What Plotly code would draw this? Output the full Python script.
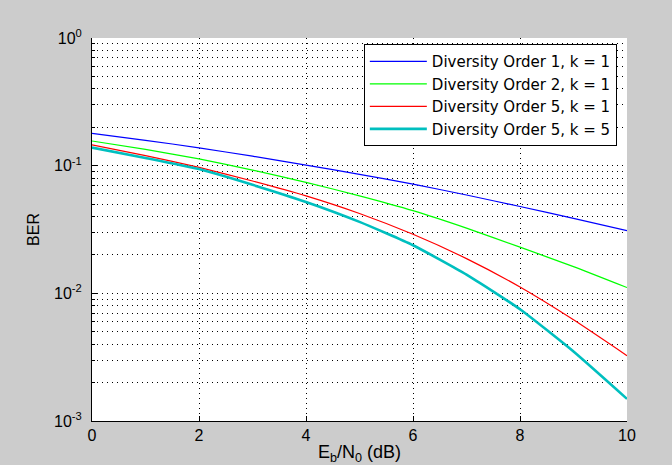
import plotly.graph_objects as go

ebn0 = [0, 1, 2, 3, 4, 5, 6, 7, 8, 9, 10]
ber_div1_k1 = [0.179, 0.158, 0.138, 0.1186, 0.101, 0.0855, 0.0717, 0.0589, 0.0479, 0.0386, 0.031]
ber_div2_k1 = [0.156, 0.134, 0.113, 0.0923, 0.074, 0.058, 0.0444, 0.0324, 0.0230, 0.0162, 0.0111]
ber_div5_k1 = [0.1455, 0.120, 0.097, 0.0759, 0.058, 0.0422, 0.0290, 0.0187, 0.0112, 0.0062, 0.00325]
ber_div5_k5 = [0.1386, 0.115, 0.094, 0.0708, 0.052, 0.0363, 0.0238, 0.0140, 0.0075, 0.00350, 0.00149]

names = ["Diversity Order 1, k = 1", "Diversity Order 2, k = 1",
         "Diversity Order 5, k = 1", "Diversity Order 5, k = 5"]
colors = ["rgb(0,0,255)", "rgb(0,255,0)", "rgb(255,0,0)", "rgb(0,191,191)"]
widths = [1.2, 1.2, 1.2, 2.6]

y_major = [1e-3, 1e-2, 1e-1, 1]
y_major_text = ["10<sup>-3</sup>", "10<sup>-2</sup>", "10<sup>-1</sup>", "10<sup>0</sup>"]
y_minor = [m * d for d in [1e-3, 1e-2, 1e-1] for m in range(2, 10)]
x_ticks = [0, 2, 4, 6, 8, 10]

fig = go.Figure()
for ys, n, c, w in zip([ber_div1_k1, ber_div2_k1, ber_div5_k1, ber_div5_k5], names, colors, widths):
    fig.add_trace(go.Scatter(x=ebn0, y=ys, mode="lines", name=n,
                             line=dict(color=c, width=w, shape="spline", smoothing=0.5)))

grid_dash = "1px,4px"
fig.update_layout(
    width=672, height=465,
    margin=dict(l=92, r=45, t=38, b=44),
    paper_bgcolor="rgb(204,204,204)",
    plot_bgcolor="white",
    font=dict(family="Liberation Sans, Arial, sans-serif", size=15, color="black"),
    showlegend=True,
    legend=dict(x=0.981, y=0.984, xanchor="right", yanchor="top",
                bgcolor="white", bordercolor="black", borderwidth=1,
                font=dict(family="DejaVu Sans, sans-serif", size=15),
                itemwidth=57, tracegroupgap=0),
    xaxis=dict(range=[0, 10], tickmode="array", tickvals=x_ticks, automargin=False,
               ticks="inside", ticklen=5, tickcolor="black",
               tickfont=dict(size=16), ticklabelstandoff=0,
               showline=True, linecolor="black", linewidth=1, mirror=False,
               showgrid=True, gridcolor="black", griddash=grid_dash, gridwidth=1,
               zeroline=False,
               title=dict(text="E<sub>b</sub>/N<sub>0</sub> (dB)", standoff=12)),
    yaxis=dict(type="log", range=[-3, 0], tickmode="array", tickvals=y_major,
               ticktext=y_major_text, automargin=False,
               ticks="inside", ticklen=5, tickcolor="black",
               tickfont=dict(size=16), ticklabelstandoff=6,
               showline=True, linecolor="black", linewidth=1, mirror=False,
               showgrid=True, gridcolor="black", griddash=grid_dash, gridwidth=1,
               zeroline=False,
               minor=dict(tickmode="array", tickvals=y_minor, ticks="inside", ticklen=3,
                          tickcolor="black", showgrid=True, gridcolor="black",
                          griddash=grid_dash, gridwidth=1),
               title=dict(text="BER", font=dict(size=16), standoff=10)),
)

fig.write_html("out.html")
